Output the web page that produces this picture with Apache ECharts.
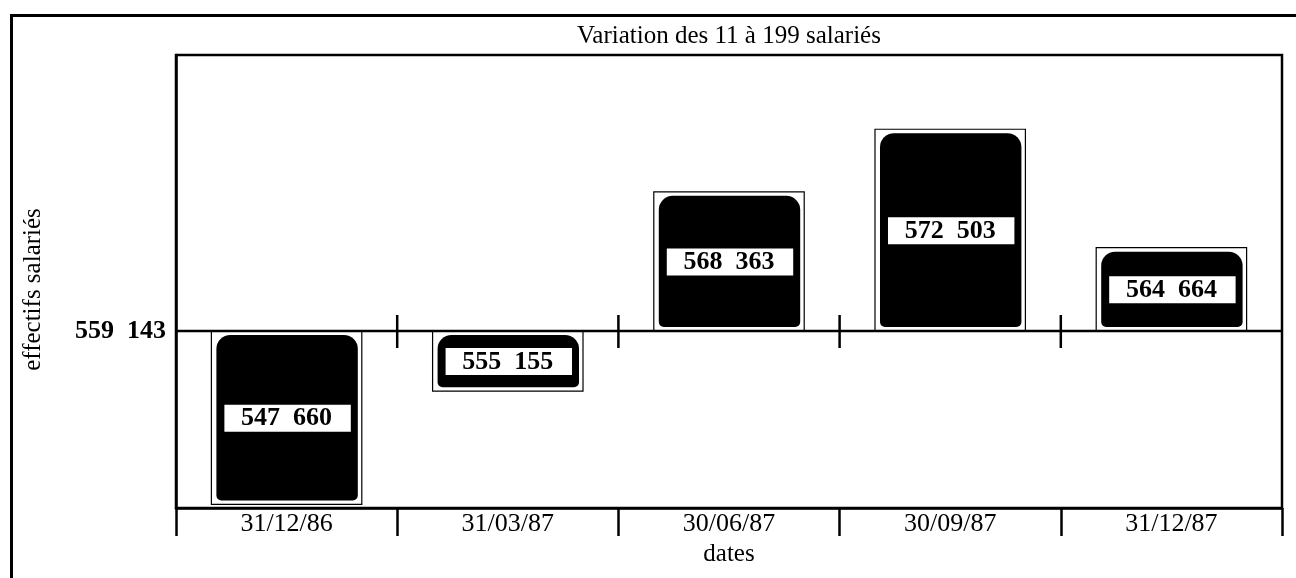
<!DOCTYPE html>
<html>
<head>
<meta charset="utf-8">
<script src="https://cdn.jsdelivr.net/npm/echarts@6/dist/echarts.min.js"></script>
<style>
  html, body { margin: 0; padding: 0; background: #fff; }
  #chart { width: 1296px; height: 578px; }
</style>
</head>
<body>
<div id="chart"></div>
<script>
const dates = ['31/12/86', '31/03/87', '30/06/87', '30/09/87', '31/12/87']
const effectifs = [547660, 555155, 568363, 572503, 564664]
const reference = 559143
const axisMin = 547421
const axisMax = 577421

const serif = '"Liberation Serif", "DejaVu Serif", serif'

function fmt(v) {
  const s = String(v)
  return s.slice(0, s.length - 3) + '  ' + s.slice(-3)
}

function renderBar(params, api) {
  const i = api.value(0)
  const v = api.value(1)
  const band = api.size([1, 0])[0]
  const [cx, yv] = api.coord([i, v])
  const yb = api.coord([i, reference])[1]
  const bw = band * 0.68
  const x0 = cx - bw / 2
  const top = Math.min(yv, yb)
  const h = Math.abs(yv - yb)
  const mid = (yv + yb) / 2
  const children = [
    {
      type: 'line',
      shape: { x1: cx - band / 2, y1: yb, x2: cx + band / 2, y2: yb },
      style: { stroke: '#000', lineWidth: 2.5 },
    },
    {
      type: 'rect',
      shape: { x: x0, y: top, width: bw, height: h },
      style: { fill: 'none', stroke: '#000', lineWidth: 1.2 },
    },
    {
      type: 'rect',
      shape: { x: x0 + 5, y: top + 4, width: bw - 9, height: h - 8, r: [14, 14, 5, 5] },
      style: { fill: '#000' },
    },
    {
      type: 'rect',
      shape: { x: x0 + 13, y: mid - 13, width: bw - 24, height: 27 },
      style: { fill: '#fff' },
    },
    {
      type: 'text',
      style: {
        x: cx, y: mid + 1, text: fmt(v),
        font: 'bold 26px ' + serif, fill: '#000',
        align: 'center', verticalAlign: 'middle',
      },
    },
  ]
  if (i > 0) {
    children.push({
      type: 'line',
      shape: { x1: cx - band / 2, y1: yb - 16, x2: cx - band / 2, y2: yb + 17 },
      style: { stroke: '#000', lineWidth: 2.5 },
    })
  }
  return { type: 'group', children }
}

const chart = echarts.init(document.getElementById('chart'), null, { renderer: 'canvas' })
chart.setOption({
  animation: false,
  backgroundColor: '#fff',
  title: {
    text: 'Variation des 11 à 199 salariés',
    left: 724, top: 19, textAlign: 'center',
    textStyle: { fontFamily: serif, fontSize: 25, fontWeight: 'normal', color: '#000' },
  },
  graphic: [
    {
      type: 'rect', left: 9, top: 13, silent: true,
      shape: { width: 1400, height: 700 },
      style: { fill: 'none', stroke: '#000', lineWidth: 3 },
    },
  ],
  grid: {
    left: 176, top: 55, width: 1106, height: 453,
    show: true, borderColor: '#000', borderWidth: 2.5, backgroundColor: 'transparent',
  },
  xAxis: {
    type: 'category',
    data: dates,
    boundaryGap: true,
    name: 'dates',
    nameLocation: 'middle',
    nameGap: 33,
    nameTextStyle: { fontFamily: serif, fontSize: 25, color: '#000' },
    axisLine: { lineStyle: { color: '#000', width: 2.5 } },
    axisTick: { show: true, length: 28, lineStyle: { color: '#000', width: 2.5 } },
    axisLabel: { fontFamily: serif, fontSize: 26, color: '#000', margin: 3 },
  },
  yAxis: {
    type: 'value',
    min: axisMin,
    max: axisMax,
    name: 'effectifs salariés',
    nameLocation: 'middle',
    nameRotate: 90,
    nameGap: 130,
    nameTextStyle: { fontFamily: serif, fontSize: 25, color: '#000', padding: [0, 16, 0, 0] },
    splitLine: { show: false },
    axisLine: { show: true, lineStyle: { color: '#000', width: 2.5 } },
    axisTick: { show: false },
    axisLabel: {
      customValues: [reference],
      formatter: (v) => fmt(v),
      fontFamily: serif, fontSize: 26, fontWeight: 'bold', color: '#000', margin: 10,
    },
  },
  series: [
    {
      type: 'custom',
      renderItem: renderBar,
      encode: { x: 0, y: 1 },
      data: effectifs.map((v, i) => [i, v]),
    },
  ],
})
</script>
</body>
</html>
